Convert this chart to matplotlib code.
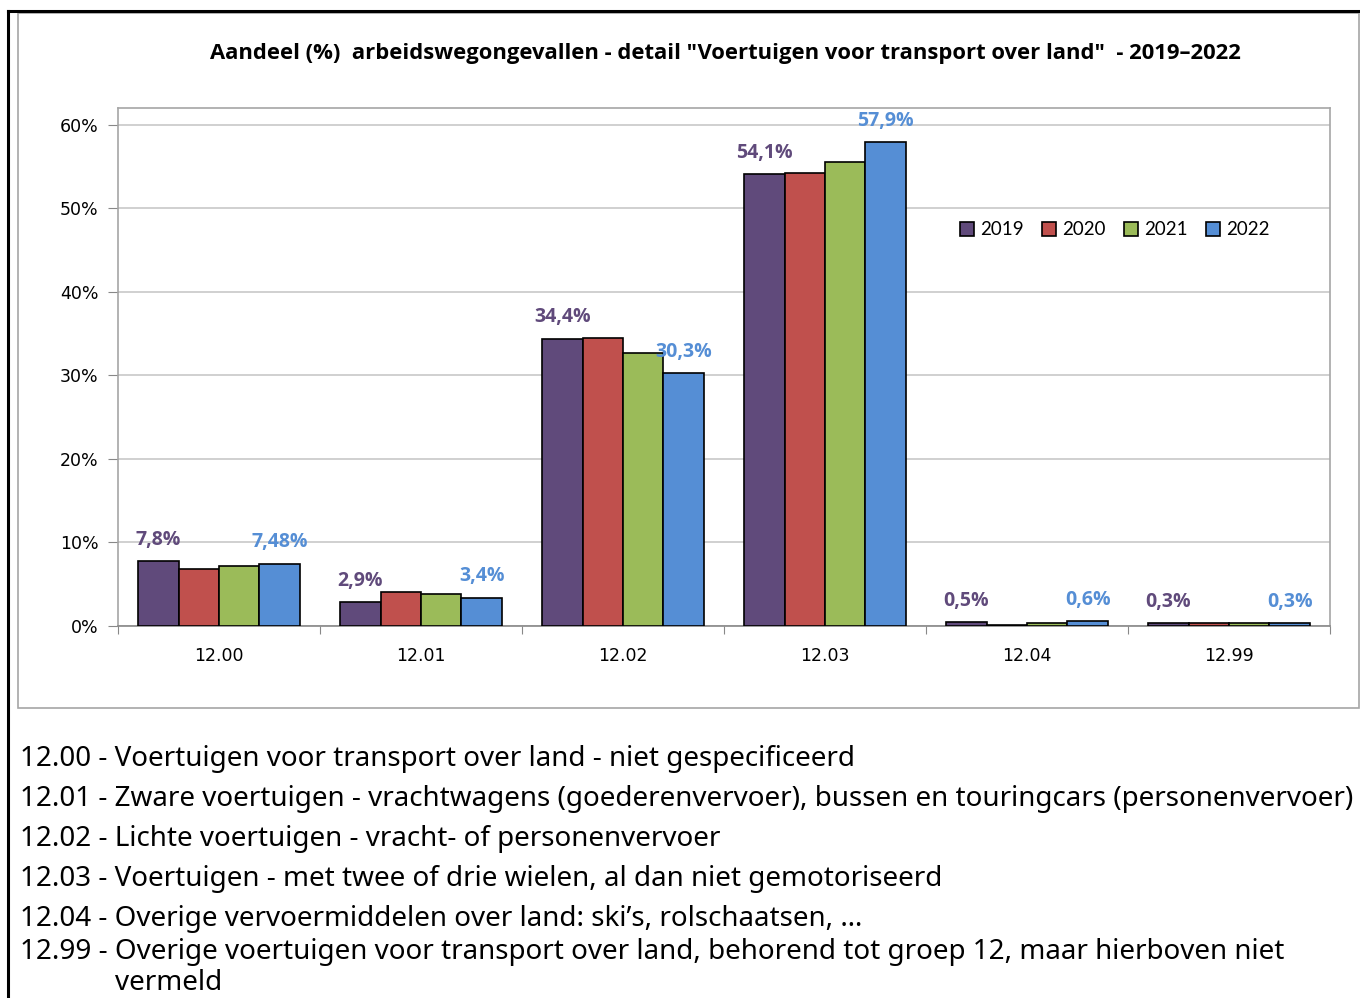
import numpy as np
import matplotlib.pyplot as plt
from matplotlib.patches import Rectangle
from matplotlib.lines import Line2D

# categorieën en aandelen (%) per jaar
categories = ["12.00", "12.01", "12.02", "12.03", "12.04", "12.99"]
years = ["2019", "2020", "2021", "2022"]
share_2019 = [7.8, 2.9, 34.4, 54.1, 0.5, 0.3]
share_2020 = [6.8, 4.1, 34.5, 54.2, 0.1, 0.4]
share_2021 = [7.2, 3.8, 32.7, 55.5, 0.3, 0.3]
share_2022 = [7.48, 3.4, 30.3, 57.9, 0.6, 0.3]
colors = ["#604A7B", "#C0504D", "#9BBB59", "#558ED5"]

title = 'Aandeel (%)  arbeidswegongevallen - detail "Voertuigen voor transport over land"  - 2019\u20132022'
notes = [
    "12.00 - Voertuigen voor transport over land - niet gespecificeerd",
    "12.01 - Zware voertuigen - vrachtwagens (goederenvervoer), bussen en touringcars (personenvervoer)",
    "12.02 - Lichte voertuigen - vracht- of personenvervoer",
    "12.03 - Voertuigen - met twee of drie wielen, al dan niet gemotoriseerd",
    "12.04 - Overige vervoermiddelen over land: ski\u2019s, rolschaatsen, \u2026",
    "12.99 - Overige voertuigen voor transport over land, behorend tot groep 12, maar hierboven niet",
]

W, H = 1360, 998
fig = plt.figure(figsize=(W / 100, H / 100), dpi=100)

def fx(px):
    return px / W

def fy(py):
    return 1 - py / H

# kaders rond de grafiek
fig.add_artist(Line2D([fx(8), fx(1360)], [fy(11), fy(11)], color="black", lw=2.2))
fig.add_artist(Line2D([fx(8), fx(8)], [fy(11), fy(998)], color="black", lw=2.2))
fig.add_artist(Rectangle((fx(18), fy(708)), fx(1359) - fx(18), fy(13) - fy(708),
                         fill=False, ec="#A6A6A6", lw=1.2))

ax = fig.add_axes([fx(118), fy(626), fx(1330) - fx(118), fy(108) - fy(626)])

series = [share_2019, share_2020, share_2021, share_2022]
x = np.arange(len(categories))
bw = 0.2
for i, (vals, col) in enumerate(zip(series, colors)):
    ax.bar(x + (i - 1.5) * bw, vals, bw, color=col, edgecolor="black", lw=1.2,
           label=years[i], zorder=3)

# waardelabels voor 2019 en 2022
for j in range(len(categories)):
    for i, col in [(0, colors[0]), (3, colors[3])]:
        v = series[i][j]
        ax.annotate(f"{v:g}%".replace(".", ","), (x[j] + (i - 1.5) * bw, v),
                    xytext=(0, 8), textcoords="offset points", ha="center", va="bottom",
                    color=col, fontsize=14, fontweight="bold", family="Open Sans", zorder=4)

ax.set_xlim(-0.5, len(categories) - 0.5)
ax.set_ylim(0, 62)
ax.set_yticks(np.arange(0, 61, 10))
ax.set_yticklabels([f"{t}%" for t in range(0, 61, 10)], fontsize=12.5, family="DejaVu Sans")
ax.yaxis.grid(True, color="#C8C8C8", lw=1.2, zorder=0)
ax.tick_params(axis="y", length=7, color="#888888", pad=7)

ax.set_xticks(np.arange(-0.5, len(categories), 1.0))
ax.set_xticklabels([])
ax.set_xticks(x, minor=True)
ax.set_xticklabels(categories, minor=True, fontsize=12.5, family="DejaVu Sans")
ax.tick_params(axis="x", which="major", length=6, color="#888888")
ax.tick_params(axis="x", which="minor", length=0, pad=15)

for s in ax.spines.values():
    s.set_color("#A6A6A6")
    s.set_linewidth(1.2)
ax.spines["bottom"].set_color("#888888")

ax.legend(loc="center", bbox_to_anchor=(0.8226, 0.7645), ncol=4, frameon=False,
          handlelength=0.75, handleheight=0.75, handletextpad=0.3, columnspacing=1.0,
          prop={"family": "Lato", "size": 13.5})

fig.text(fx(725), fy(54), title, ha="center", va="center", fontsize=15.8,
         fontweight="bold", family="Open Sans")

note_y = [759, 799, 839, 879, 919, 952]
for line, yy in zip(notes, note_y):
    fig.text(fx(20), fy(yy), line, ha="left", va="center", fontsize=20, family="Noto Sans")
fig.text(fx(115), fy(983), "vermeld", ha="left", va="center", fontsize=20, family="Noto Sans")

fig.savefig("out.png", dpi=100)
